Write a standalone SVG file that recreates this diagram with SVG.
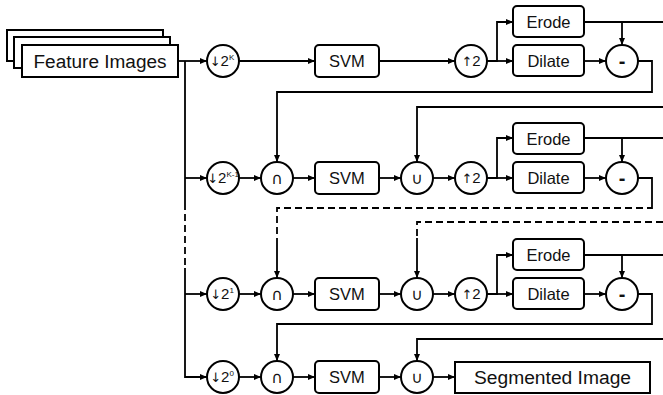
<svg xmlns="http://www.w3.org/2000/svg" width="663" height="395" viewBox="0 0 663 395">
<style>
.box{fill:#fff;stroke:#000;stroke-width:2}
.circ{fill:#fff;stroke:#000;stroke-width:2}
.ln{fill:none;stroke:#000;stroke-width:1.8}
.ar{fill:none;stroke:#000;stroke-width:1.8;marker-end:url(#ah)}
.ds{fill:none;stroke:#000;stroke-width:1.8;stroke-dasharray:7 4}
text{font-family:"Liberation Sans","DejaVu Sans",Arial,sans-serif;fill:#111;text-anchor:middle}
.t{font-size:16.5px}
.big{font-size:18px}
.c{font-size:15px}
.arw{font-family:"DejaVu Sans",sans-serif;font-size:13px}
.sup{font-size:8px}
.op{font-size:16px;font-family:"DejaVu Sans","Liberation Sans",sans-serif}
.mn{font-size:20px;font-weight:bold}
</style>
<defs>
<marker id="ah" markerUnits="userSpaceOnUse" markerWidth="7" markerHeight="6" refX="7" refY="3" orient="auto">
<path d="M0,0 L7,3 L0,6 z" fill="#000"/>
</marker>
</defs>

<g id="connectors">
<path class="ar" d="M178,61 H207"/>
<path class="ln" d="M185,61 V203"/>
<path class="ds" d="M185,203 V268"/>
<path class="ar" d="M185,268 V377 H207"/>
<path class="ar" d="M185,178 H207"/>
<path class="ar" d="M185,294 H207"/>

<path class="ar" d="M239,61 H315"/>
<path class="ar" d="M379,61 H455"/>
<path class="ar" d="M487,61 H497 V22 H513"/>
<path class="ar" d="M497,61 H513"/>
<path class="ln" d="M584,22 H663"/>
<path class="ar" d="M622,22 V45"/>
<path class="ar" d="M584,61 H606"/>
<path class="ar" d="M638,61 H652 V92 H277 V162"/>
<path class="ar" d="M663,107 H417 V162"/>

<path class="ar" d="M239,178 H261"/>
<path class="ar" d="M293,178 H315"/>
<path class="ar" d="M379,178 H401"/>
<path class="ar" d="M433,178 H455"/>
<path class="ar" d="M487,178 H497 V138 H513"/>
<path class="ar" d="M497,178 H513"/>
<path class="ln" d="M584,138 H663"/>
<path class="ar" d="M622,138 V162"/>
<path class="ar" d="M584,178 H606"/>
<path class="ln" d="M638,178 H652 V206"/>
<path class="ds" d="M652,206 V208 H277 V238"/>
<path class="ar" d="M277,238 V278"/>
<path class="ds" d="M663,222 H417 V238"/>
<path class="ar" d="M417,238 V278"/>

<path class="ar" d="M239,294 H261"/>
<path class="ar" d="M293,294 H315"/>
<path class="ar" d="M379,294 H401"/>
<path class="ar" d="M433,294 H455"/>
<path class="ar" d="M487,294 H497 V255 H513"/>
<path class="ar" d="M497,294 H513"/>
<path class="ln" d="M584,255 H663"/>
<path class="ar" d="M622,255 V278"/>
<path class="ar" d="M584,294 H606"/>
<path class="ar" d="M638,294 H652 V324 H277 V361"/>
<path class="ar" d="M663,339 H417 V361"/>

<path class="ar" d="M239,377 H261"/>
<path class="ar" d="M293,377 H315"/>
<path class="ar" d="M379,377 H401"/>
<path class="ar" d="M433,377 H455"/>
</g>

<g id="feature-images">
<rect class="box" x="7" y="30" width="156" height="31"/>
<rect class="box" x="14" y="37" width="156" height="31"/>
<rect class="box" x="22" y="45" width="156" height="32"/>
<text class="big" x="100" y="68" textLength="133" lengthAdjust="spacingAndGlyphs">Feature Images</text>
</g>

<!-- Row 1 -->
<g id="down-k"><circle class="circ" cx="223" cy="61" r="16"/><text class="c" x="222" y="66"><tspan class="arw">↓</tspan>2<tspan class="sup" dy="-6">K</tspan></text></g>
<g id="svm-1"><rect class="box" x="315" y="45" width="64" height="32" rx="4"/><text class="t" x="347" y="67">SVM</text></g>
<g id="up-1"><circle class="circ" cx="471" cy="61" r="16"/><text class="c" x="471" y="66"><tspan class="arw">↑</tspan>2</text></g>
<g id="erode-1"><rect class="box" x="513" y="6" width="71" height="31" rx="4"/><text class="t" x="548.5" y="28">Erode</text></g>
<g id="dilate-1"><rect class="box" x="513" y="45" width="71" height="31" rx="4"/><text class="t" x="548.5" y="67">Dilate</text></g>
<g id="minus-1"><circle class="circ" cx="622" cy="61" r="16"/><text class="mn" x="622" y="68">-</text></g>

<!-- Row 2 -->
<g id="down-k1"><circle class="circ" cx="223" cy="178" r="16"/><text class="c" x="223" y="183" font-size="14"><tspan class="arw" font-size="12">↓</tspan>2<tspan class="sup" dy="-6" font-size="7">K-1</tspan></text></g>
<g id="cap-2"><circle class="circ" cx="277" cy="178" r="16"/><text class="op" x="277" y="184">∩</text></g>
<g id="svm-2"><rect class="box" x="315" y="162" width="64" height="32" rx="4"/><text class="t" x="347" y="184">SVM</text></g>
<g id="cup-2"><circle class="circ" cx="417" cy="178" r="16"/><text class="op" x="417" y="184">∪</text></g>
<g id="up-2"><circle class="circ" cx="471" cy="178" r="16"/><text class="c" x="471" y="183"><tspan class="arw">↑</tspan>2</text></g>
<g id="erode-2"><rect class="box" x="513" y="123" width="71" height="31" rx="4"/><text class="t" x="548.5" y="145">Erode</text></g>
<g id="dilate-2"><rect class="box" x="513" y="162" width="71" height="31" rx="4"/><text class="t" x="548.5" y="184">Dilate</text></g>
<g id="minus-2"><circle class="circ" cx="622" cy="178" r="16"/><text class="mn" x="622" y="185">-</text></g>

<!-- Row 3 -->
<g id="down-1"><circle class="circ" cx="223" cy="294" r="16"/><text class="c" x="222" y="299"><tspan class="arw">↓</tspan>2<tspan class="sup" dy="-6">1</tspan></text></g>
<g id="cap-3"><circle class="circ" cx="277" cy="294" r="16"/><text class="op" x="277" y="300">∩</text></g>
<g id="svm-3"><rect class="box" x="315" y="278" width="64" height="32" rx="4"/><text class="t" x="347" y="300">SVM</text></g>
<g id="cup-3"><circle class="circ" cx="417" cy="294" r="16"/><text class="op" x="417" y="300">∪</text></g>
<g id="up-3"><circle class="circ" cx="471" cy="294" r="16"/><text class="c" x="471" y="299"><tspan class="arw">↑</tspan>2</text></g>
<g id="erode-3"><rect class="box" x="513" y="239" width="71" height="31" rx="4"/><text class="t" x="548.5" y="261">Erode</text></g>
<g id="dilate-3"><rect class="box" x="513" y="278" width="71" height="31" rx="4"/><text class="t" x="548.5" y="300">Dilate</text></g>
<g id="minus-3"><circle class="circ" cx="622" cy="294" r="16"/><text class="mn" x="622" y="301">-</text></g>

<!-- Row 4 -->
<g id="down-0"><circle class="circ" cx="223" cy="377" r="16"/><text class="c" x="222" y="382"><tspan class="arw">↓</tspan>2<tspan class="sup" dy="-6">0</tspan></text></g>
<g id="cap-4"><circle class="circ" cx="277" cy="377" r="16"/><text class="op" x="277" y="383">∩</text></g>
<g id="svm-4"><rect class="box" x="315" y="361" width="64" height="32" rx="4"/><text class="t" x="347" y="383">SVM</text></g>
<g id="cup-4"><circle class="circ" cx="417" cy="377" r="16"/><text class="op" x="417" y="383">∪</text></g>
<g id="segmented-image"><rect class="box" x="455" y="362" width="195" height="31"/><text class="big" x="552.5" y="384" textLength="157" lengthAdjust="spacingAndGlyphs">Segmented Image</text></g>
</svg>
